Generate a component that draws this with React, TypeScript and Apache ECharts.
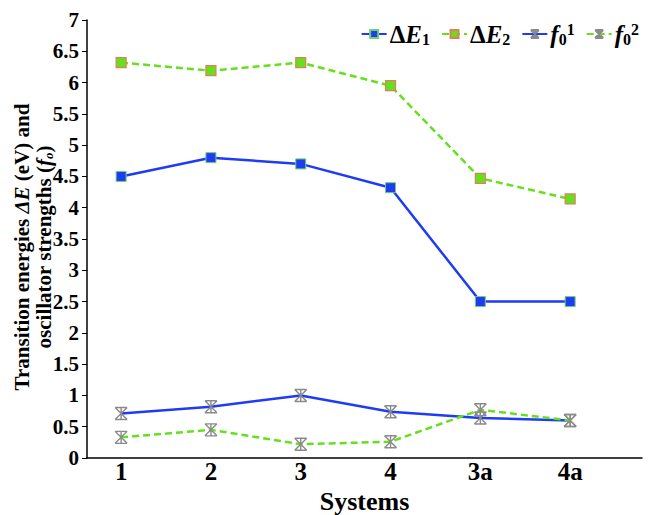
import React, { useEffect, useRef } from "react";
import * as echarts from "echarts";

const systems = ["1", "2", "3", "4", "3a", "4a"];
const dE1 = [4.5, 4.8, 4.7, 4.32, 2.5, 2.5];
const dE2 = [6.32, 6.19, 6.32, 5.95, 4.47, 4.14];
const f01 = [0.71, 0.82, 1.0, 0.74, 0.64, 0.6];
const f02 = [0.33, 0.45, 0.22, 0.26, 0.77, 0.6];
const yTicks = [0, 0.5, 1, 1.5, 2, 2.5, 3, 3.5, 4, 4.5, 5, 5.5, 6, 6.5, 7];
const yTitleLines = ["Transition energies {i|ΔE} (eV) and", "oscillator strengths ({i|f}{s|o})"];

const FONT = "Liberation Serif, Times New Roman, serif";
const BLUE = "#1f3cf5";
const LIME = "#66e01e";
const STAR = "path://M0,0L10,10M10,0L0,10M5,0L5,10M0,0L10,0M0,10L10,10";

const pts = (arr: number[]) => arr.map((v, i) => [i + 1, v]);

export default function App() {
  const ref = useRef<HTMLDivElement>(null);
  useEffect(() => {
    if (!ref.current) return;
    const chart = echarts.init(ref.current, null, { renderer: "svg" });
    const legendNames: Record<string, string> = {
      dE1: "{d|Δ}{b|E}{s|1}",
      dE2: "{d|Δ}{b|E}{s|2}",
      f1: "{b|f}{s|0}{p|1}",
      f2: "{b|f}{s|0}{p|2}",
    };
    const titleRich = {
      i: { fontFamily: FONT, fontWeight: "bold", fontStyle: "italic", fontSize: 21, fill: "#000", color: "#000" },
      s: { fontFamily: FONT, fontWeight: "bold", fontStyle: "italic", fontSize: 13, fill: "#000", color: "#000", verticalAlign: "bottom", padding: [8, 0, 0, 0] },
    };
    chart.setOption({
      animation: false,
      backgroundColor: "#ffffff",
      grid: { left: 87, right: 6, top: 20, bottom: 57, outerBoundsMode: "none", containLabel: false },
      graphic: yTitleLines.map((t, k) => ({
        type: "text",
        x: 22 + k * 22,
        y: 247,
        rotation: Math.PI / 2,
        style: {
          text: t,
          fontFamily: FONT,
          fontWeight: "bold",
          fontSize: 21,
          fill: "#000",
          align: "center",
          verticalAlign: "middle",
          rich: titleRich,
        },
      })),
      legend: {
        top: 16,
        right: 4,
        itemGap: 11,
        itemWidth: 25,
        itemHeight: 10,
        data: ["dE1", "dE2", "f1", "f2"],
        formatter: (n: string) => legendNames[n],
        textStyle: {
          fontFamily: FONT,
          padding: [0, 0, 0, -2],
          rich: {
            d: { fontFamily: FONT, fontWeight: "bold", fontSize: 25, color: "#000" },
            b: { fontFamily: FONT, fontWeight: "bold", fontSize: 25, fontStyle: "italic", color: "#000" },
            s: { fontFamily: FONT, fontWeight: "bold", fontSize: 16, color: "#000", verticalAlign: "bottom", padding: [10, 0, 0, 0] },
            p: { fontFamily: FONT, fontWeight: "bold", fontSize: 16, color: "#000", verticalAlign: "top", padding: [0, 0, 10, 0] },
          },
        },
      },
      xAxis: {
        type: "value",
        min: 0.62,
        max: 6.8,
        name: "Systems",
        nameLocation: "middle",
        nameGap: 27,
        nameTextStyle: { fontFamily: FONT, fontWeight: "bold", fontSize: 26, color: "#000" },
        axisLine: { show: true, lineStyle: { color: "#000", width: 1.5 } },
        axisTick: { show: false },
        splitLine: { show: false },
        axisLabel: {
          customValues: [1, 2, 3, 4, 5, 6],
          formatter: (v: number) => systems[Math.round(v) - 1] ?? "",
          fontFamily: FONT,
          fontWeight: "bold",
          fontSize: 25,
          color: "#000",
          margin: 1,
        },
      },
      yAxis: {
        type: "value",
        min: 0,
        max: 7,
        interval: 0.5,
        axisLine: { show: true, lineStyle: { color: "#000", width: 1.5 } },
        axisTick: { show: true, length: 5, lineStyle: { color: "#000" }, customValues: yTicks },
        splitLine: { show: false },
        axisLabel: {
          customValues: yTicks,
          formatter: (v: number) => String(v),
          fontFamily: FONT,
          fontWeight: "bold",
          fontSize: 21,
          color: "#000",
          margin: 8,
        },
      },
      series: [
        {
          name: "dE1",
          type: "line",
          data: pts(dE1),
          symbol: "rect",
          symbolSize: 10,
          lineStyle: { color: BLUE, width: 2.5 },
          itemStyle: { color: BLUE, borderColor: "#6fd06f", borderWidth: 1 },
          z: 3,
        },
        {
          name: "dE2",
          type: "line",
          data: pts(dE2),
          symbol: "rect",
          symbolSize: 10,
          lineStyle: { color: LIME, width: 2.5, type: [7, 4] },
          itemStyle: { color: LIME, borderColor: "#e0805a", borderWidth: 1.2 },
          z: 3,
        },
        {
          name: "f1",
          type: "line",
          data: pts(f01),
          symbol: STAR,
          symbolSize: 12,
          lineStyle: { color: BLUE, width: 2.5 },
          itemStyle: { color: "none", borderColor: "#8a8a8a", borderWidth: 1.4 },
          z: 3,
        },
        {
          name: "f2",
          type: "line",
          data: pts(f02),
          symbol: STAR,
          symbolSize: 12,
          lineStyle: { color: LIME, width: 2.5, type: [7, 4] },
          itemStyle: { color: "none", borderColor: "#8a8a8a", borderWidth: 1.4 },
          z: 3,
        },
      ],
    });
    return () => chart.dispose();
  }, []);
  return <div ref={ref} style={{ width: 648, height: 515, position: "absolute", left: 0, top: 0 }} />;
}
